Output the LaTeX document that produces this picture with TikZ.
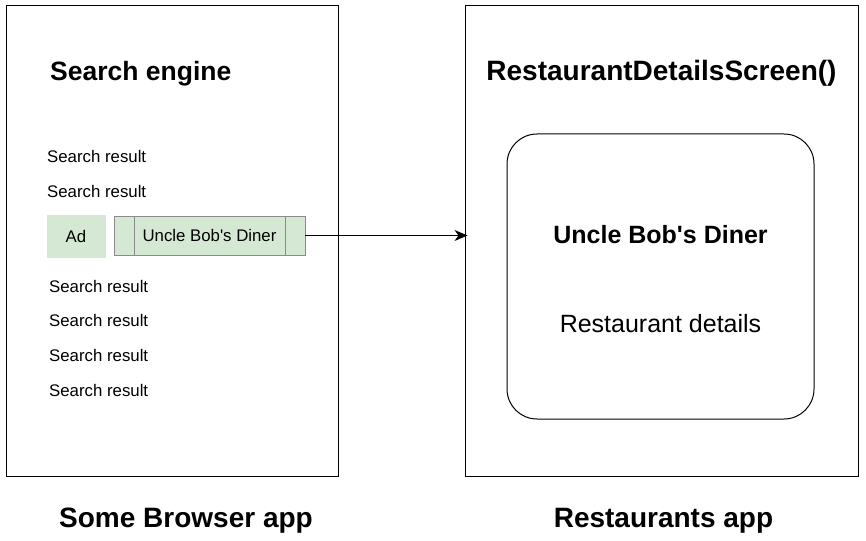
\documentclass[tikz,border=0pt]{standalone}
\usepackage{xcolor}
\usepackage{fontspec}
\setmainfont{Liberation Sans}
\usetikzlibrary{arrows.meta}

\definecolor{adgreen}{HTML}{D5E8D4}
\definecolor{procgray}{HTML}{8A8A8A}

\tikzset{
  appbox/.style={draw, line width=1pt},
  apptitle/.style={font=\fontsize{28}{32}\selectfont\bfseries, inner sep=0pt},
  result/.style={font=\fontsize{16.8}{20}\selectfont, anchor=west, inner sep=0pt},
  adbox/.style={fill=adgreen, minimum width=59pt, minimum height=43pt, inner sep=0pt,
    font=\fontsize{16.8}{20}\selectfont},
  procbox/.style={fill=adgreen, draw=procgray, line width=0.8pt, minimum width=191pt,
    minimum height=39pt, inner sep=0pt, font=\fontsize{16.8}{20}\selectfont},
  detailbox/.style={draw, line width=1pt, rounded corners=30pt, minimum width=307pt,
    minimum height=285pt},
  link/.style={line width=1pt, -{Stealth[length=13pt,width=11pt,inset=4pt]}, shorten >=-3pt}
}

\begin{document}
\begin{tikzpicture}[x=1pt, y=-1pt]
  \useasboundingbox (0,0) rectangle (866,540) ;
  %
  \draw[appbox] (6,6) rectangle (338,476) ;
  \node[apptitle, anchor=west, font=\fontsize{26.5}{30}\selectfont\bfseries] (engine) at (50,74) {Search engine} ;
  \node[result] (res1) at (47,156) {Search result} ;
  \node[result] (res2) at (47,191) {Search result} ;
  \node[adbox] (ad) at (76,236) {Ad} ;
  \node[procbox] (diner) at (209.5,235.5) {Uncle Bob\textquotesingle s Diner} ;
  \draw[procgray, line width=0.8pt] (134,216) -- (134,255) ;
  \draw[procgray, line width=0.8pt] (285,216) -- (285,255) ;
  \node[result] (res3) at (49,286) {Search result} ;
  \node[result] (res4) at (49,320) {Search result} ;
  \node[result] (res5) at (49,355) {Search result} ;
  \node[result] (res6) at (49,390) {Search result} ;
  \node[apptitle] (browser) at (186,521) {Some Browser app} ;
  %
  \node[appbox, minimum width=393pt, minimum height=470pt, inner sep=0pt] (restapp) at (661.5,241) {} ;
  \node[apptitle] (screen) at (661.5,73) {RestaurantDetailsScreen()} ;
  \node[detailbox] (details) at (660.5,276.5) {} ;
  \node[font=\fontsize{25}{29}\selectfont\bfseries] (name) at (660.5,235) {Uncle Bob\textquotesingle s Diner} ;
  \node[font=\fontsize{25}{29}\selectfont] (info) at (660.5,324) {Restaurant details} ;
  \node[apptitle] (restaurants) at (663.5,521) {Restaurants app} ;
  %
  \draw[link] (diner.east) -- (restapp.west |- diner.east) ;
\end{tikzpicture}
\end{document}
